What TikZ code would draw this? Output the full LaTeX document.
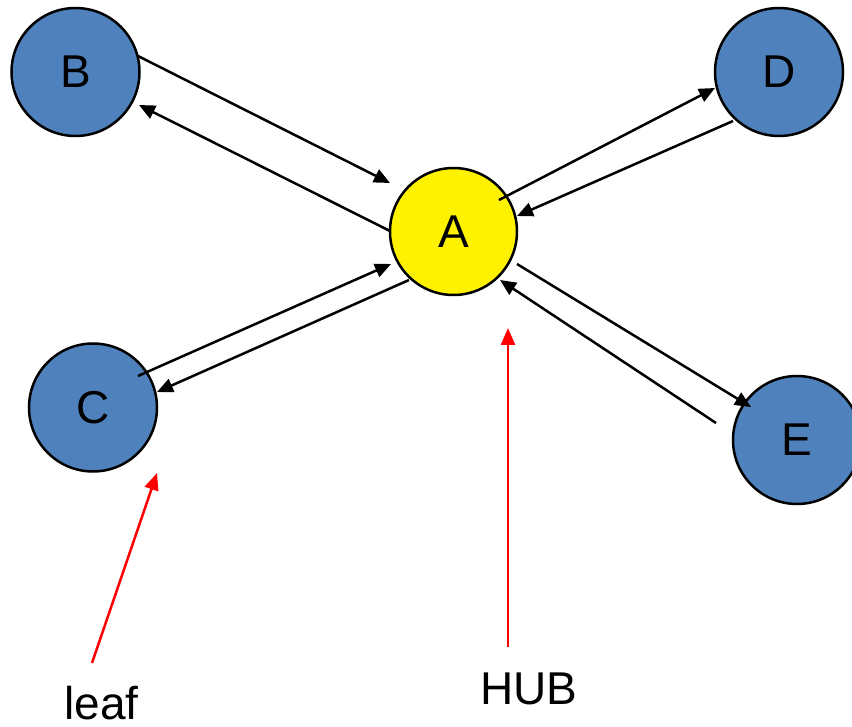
\documentclass[tikz,border=0pt]{standalone}
\usepackage{fontspec}
\setmainfont{Liberation Sans}
\usetikzlibrary{arrows.meta}
\definecolor{leafblue}{HTML}{4F81BD}
\tikzset{
  every node/.style={font=\fontsize{46}{55}\selectfont},
  hubnode/.style={circle, draw=black, line width=2.5pt, fill=yellow, minimum size=127pt, inner sep=0pt},
  leafnode/.style={circle, draw=black, line width=2.5pt, fill=leafblue, minimum size=128pt, inner sep=0pt},
  link/.style={line width=2.5pt, -{Triangle[length=16pt,width=14pt]}},
  pointer/.style={red, line width=2.5pt, -{Triangle[length=17pt,width=14pt]}},
  label/.style={anchor=base, inner sep=0pt}
}
\begin{document}
\begin{tikzpicture}[x=1pt,y=-1pt]
\useasboundingbox (0,0) rectangle (852,727);
\node[leafnode] (B) at (75.5,72) {B};
\node[leafnode] (D) at (779,72) {D};
\node[hubnode]  (A) at (453.5,231.5) {A};
\node[leafnode] (C) at (93,407.5) {C};
\node[leafnode] (E) at (797,440) {E};
% connector end points
\coordinate (ba1) at (138,56);   \coordinate (ba2) at (390,183);
\coordinate (ab1) at (390,231);  \coordinate (ab2) at (139,105);
\coordinate (ca1) at (138,376);  \coordinate (ca2) at (391,264);
\coordinate (ac1) at (409,280);  \coordinate (ac2) at (157,392);
\coordinate (ad1) at (499,200);  \coordinate (ad2) at (715,88);
\coordinate (da1) at (733,121);  \coordinate (da2) at (517,216);
\coordinate (ae1) at (517,264);  \coordinate (ae2) at (751,407);
\coordinate (ea1) at (716,423);  \coordinate (ea2) at (500,280);
\draw[link] (ba1) -- (ba2);
\draw[link] (ab1) -- (ab2);
\draw[link] (ca1) -- (ca2);
\draw[link] (ac1) -- (ac2);
\draw[link] (ad1) -- (ad2);
\draw[link] (da1) -- (da2);
\draw[link] (ae1) -- (ae2);
\draw[link] (ea1) -- (ea2);
% labels and pointers
\node[label] (leaf) at (101.5,719) {leaf};
\node[label] (hub) at (529,704) {HUB};
\coordinate (lf1) at (92,663);  \coordinate (lf2) at (157,473);
\coordinate (hb1) at (508,647); \coordinate (hb2) at (508,328);
\draw[pointer] (lf1) -- (lf2);
\draw[pointer] (hb1) -- (hb2);
\end{tikzpicture}
\end{document}
